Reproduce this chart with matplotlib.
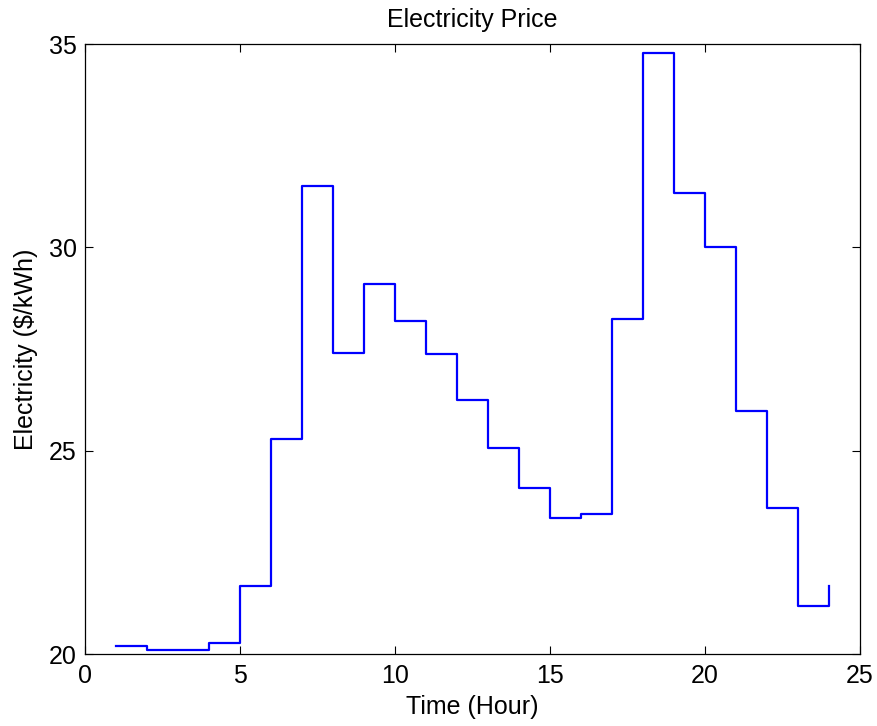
import matplotlib
matplotlib.use("Agg")
import matplotlib.pyplot as plt

# hourly price, stairs plot
hours = list(range(1, 25))
price = [20.20, 20.09, 20.09, 20.28, 21.67, 25.28, 31.52, 27.40,
         29.09, 28.20, 27.37, 26.24, 25.07, 24.09, 23.35, 23.45,
         28.25, 34.77, 31.34, 30.00, 25.98, 23.58, 21.18, 21.68]

plt.rcParams['font.family'] = ['Liberation Sans', 'DejaVu Sans']

fig = plt.figure(figsize=(8.78, 7.26), dpi=100)
ax = fig.add_axes([85 / 878, 72 / 726, 775 / 878, 610 / 726])

ax.step(hours, price, where='post', color='blue', linewidth=1.6)

ax.set_xlim(0, 25)
ax.set_ylim(20, 35)
ax.set_xticks([0, 5, 10, 15, 20, 25])
ax.set_yticks([20, 25, 30, 35])
ax.tick_params(direction='in', labelsize=18, length=6, top=True, right=True)
ax.tick_params(axis='x', pad=7)
ax.tick_params(axis='y', pad=6)
for s in ax.spines.values():
    s.set_linewidth(0.9)

ax.set_xlabel("Time (Hour)", fontsize=18, labelpad=5)
ax.set_ylabel("Electricity ($/kWh)", fontsize=18, labelpad=8)
ax.set_title("Electricity Price", fontsize=18, pad=12)

fig.savefig("out.png", dpi=100)
